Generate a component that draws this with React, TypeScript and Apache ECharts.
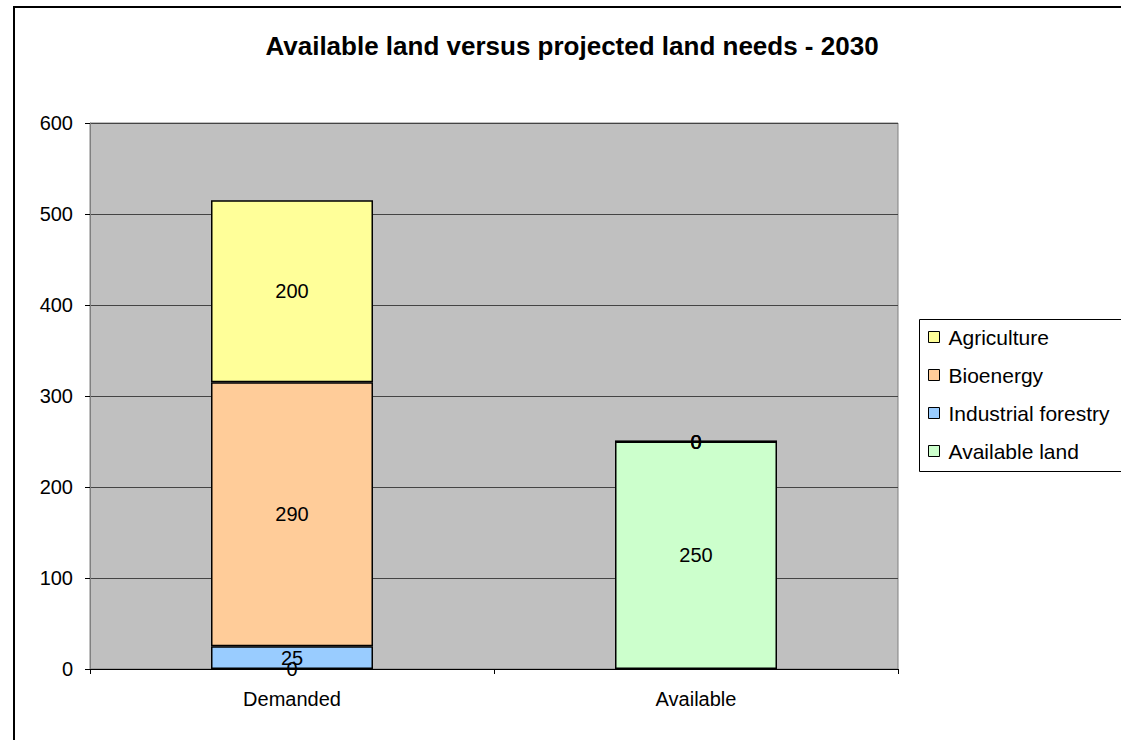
import React, { useEffect, useRef } from "react";
import * as echarts from "echarts";

const categories = ["Demanded", "Available"];
const availableLand = [0, 250];
const industrialForestry = [25, 0];
const bioenergy = [290, 0];
const agriculture = [200, 0];
const legendOrder = ["Agriculture", "Bioenergy", "Industrial forestry", "Available land"];

const FONT = "'Liberation Sans', Arial, sans-serif";

export default function App() {
  const ref = useRef<HTMLDivElement>(null);
  useEffect(() => {
    document.body.style.margin = "0";
    const chart = echarts.init(ref.current!, null, { renderer: "svg" });
    const label = {
      show: true,
      position: "inside",
      color: "#000",
      fontSize: 20,
      fontFamily: FONT,
    };
    const mk = (name: string, data: number[], color: string) => ({
      name,
      type: "bar",
      stack: "total",
      data,
      barWidth: 162,
      itemStyle: { color, borderColor: "#000", borderWidth: 1.5 },
      label,
      emphasis: { disabled: true },
    });
    chart.setOption({
      animation: false,
      backgroundColor: "#fff",
      textStyle: { fontFamily: FONT },
      title: {
        text: "Available land versus projected land needs - 2030",
        left: 567,
        top: 28,
        textAlign: "center",
        textStyle: { fontSize: 26, fontWeight: "bold", color: "#000", fontFamily: FONT },
      },
      graphic: [
        {
          type: "rect",
          shape: { x: 14, y: 7, width: 1200, height: 800 },
          style: { fill: "none", stroke: "#000", lineWidth: 2 },
          z: 100,
        },
        {
          type: "rect",
          shape: { x: 919.5, y: 319.5, width: 220, height: 152 },
          style: { fill: "#fff", stroke: "#000", lineWidth: 1 },
          z: 1,
        },
      ],
      grid: { left: 90, top: 123, right: 223, bottom: 71, show: true, backgroundColor: "#C0C0C0", borderColor: "#808080", borderWidth: 1 },
      legend: {
        data: legendOrder,
        orient: "vertical",
        left: 928,
        top: 325,
        padding: 0,
        itemGap: 14,
        itemWidth: 11,
        itemHeight: 11,
        icon: "rect",
        itemStyle: { borderColor: "#000", borderWidth: 1 },
        textStyle: { fontSize: 21, lineHeight: 24, color: "#000", fontFamily: FONT, padding: [0, 0, 0, 4] },
        z: 5,
      },
      xAxis: {
        type: "category",
        data: categories,
        axisLine: { lineStyle: { color: "#000", width: 1 } },
        axisTick: { show: true, length: 5, inside: false, alignWithLabel: false, lineStyle: { color: "#000" } },
        axisLabel: { fontSize: 20, color: "#000", margin: 20, fontFamily: FONT },
      },
      yAxis: {
        type: "value",
        min: 0,
        max: 600,
        interval: 100,
        axisLine: { show: true, lineStyle: { color: "#808080" } },
        axisTick: { show: true, length: 5, lineStyle: { color: "#000" } },
        axisLabel: { fontSize: 20, color: "#000", margin: 17, fontFamily: FONT },
        splitLine: { show: true, lineStyle: { color: "#444", width: 1 } },
      },
      series: [
        mk("Available land", availableLand, "#CCFFCC"),
        mk("Industrial forestry", industrialForestry, "#99CCFF"),
        mk("Bioenergy", bioenergy, "#FFCC99"),
        mk("Agriculture", agriculture, "#FFFF99"),
      ],
    });
    return () => chart.dispose();
  }, []);
  return <div ref={ref} style={{ position: "absolute", left: 0, top: 0, width: 1121, height: 740 }} />;
}
